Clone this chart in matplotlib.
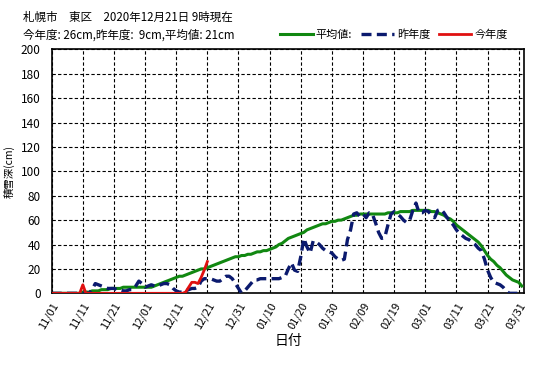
import numpy as np
import matplotlib
matplotlib.use('Agg')
import matplotlib.pyplot as plt
import matplotlib.dates as mdates

plt.rcParams['font.family'] = ['Noto Sans CJK JP', 'DejaVu Sans']

# season start, one value per day from 11/01
START = np.datetime64('2020-11-01')

# 平均値 (cm)
avg = [
    0, 0, 0, 0, 0, 0, 0, 0, 0, 0,
    1, 1, 1, 2, 2, 2, 3, 3, 3, 4,
    4, 4, 4, 5, 5, 5, 5, 5, 5, 5,
    5, 5, 5, 6, 7, 8, 9, 10, 11, 12,
    13, 14, 14, 15, 16, 17, 18, 19, 20, 20,
    21, 22, 23, 24, 25, 26, 27, 28, 29, 30,
    30, 31, 31, 32, 32, 33, 34, 34, 35, 35,
    36, 37, 38, 40, 41, 43, 45, 46, 47, 48,
    49, 50, 52, 53, 54, 55, 56, 57, 57, 58,
    59, 59, 60, 60, 61, 62, 63, 64, 64, 65,
    65, 65, 65, 65, 65, 65, 65, 65, 66, 66,
    66, 66, 67, 67, 67, 67, 68, 68, 68, 68,
    68, 68, 67, 67, 66, 65, 64, 62, 61, 59,
    56, 54, 52, 50, 48, 46, 44, 42, 39, 35,
    31, 28, 26, 23, 21, 18, 15, 13, 11, 10,
    9, 6,
]

# 昨年度 (cm)
last_year = [
    0, 0, 0, 0, 0, 0, 0, 0, 0, 0,
    0, 0, 0, 3, 8, 7, 6, 5, 4, 4,
    4, 3, 3, 2, 2, 3, 3, 6, 10, 8,
    5, 6, 7, 6, 6, 7, 8, 8, 7, 4,
    2, 1, 1, 2, 3, 4, 4, 5, 10, 12,
    12, 12, 11, 10, 10, 12, 14, 14, 12, 8,
    4, 0, 2, 5, 8, 11, 11, 12, 12, 12,
    12, 12, 12, 12, 13, 14, 20, 25, 19, 18,
    30, 45, 38, 33, 43, 42, 40, 37, 35, 34,
    33, 30, 28, 27, 28, 44, 52, 65, 66, 63,
    65, 62, 66, 65, 58, 50, 45, 46, 56, 65,
    67, 65, 63, 60, 58, 60, 68, 74, 66, 66,
    68, 67, 64, 62, 68, 69, 66, 62, 59, 56,
    52, 49, 47, 45, 44, 42, 40, 37, 35, 28,
    19, 13, 9, 8, 7, 5, 2, 0, 0, 0,
    0, 0,
]

# 今年度 (cm), up to 12/21
this_year = [
    0, 0, 0, 0, 0, 0, 0, 0, 0, 0,
    7, 0, 0, 0, 0, 0, 0, 0, 0, 0,
    0, 0, 0, 0, 0, 0, 0, 0, 0, 0,
    0, 0, 0, 0, 0, 0, 0, 0, 0, 0,
    0, 0, 0, 1, 5, 9, 9, 8, 13, 19,
    26,
]

tick_labels = ['11/01', '11/11', '11/21', '12/01', '12/11', '12/21', '12/31', '01/10',
               '01/20', '01/30', '02/09', '02/19', '03/01', '03/11', '03/21', '03/31']
y_ticks = [0, 20, 40, 60, 80, 100, 120, 140, 160, 180, 200]

title_line1 = '札幌市\u3000東区\u30002020年12月21日 9時現在'
title_line2 = '今年度: 26cm,昨年度:  9cm,平均値: 21cm'


def day_axis(n):
    return mdates.date2num((START + np.arange(n)).astype('datetime64[D]').astype(object))


fig = plt.figure(figsize=(5.35, 3.69), dpi=100)
ax = fig.add_axes([0.0966, 0.2051, 0.8834, 0.6612])

ax.plot(day_axis(len(avg)), avg, color='#118811', lw=2.2, label='平均値:', zorder=3)
ax.plot(day_axis(len(last_year)), last_year, color='#0b1a6e', lw=2.4,
        dashes=(3, 1.6), label='昨年度', zorder=4)
ax.plot(day_axis(len(this_year)), this_year, color='#e01010', lw=2.0,
        label='今年度', zorder=5)

x0 = day_axis(1)[0]
ticks = x0 + 10 * np.arange(len(tick_labels))
ax.set_xticks(ticks)
ax.set_xticklabels(tick_labels, rotation=60, ha='right', va='top',
                   rotation_mode='anchor', fontsize=8)
ax.set_xlim(x0, x0 + 151.8)
ax.set_yticks(y_ticks)
ax.set_yticklabels([str(v) for v in y_ticks], fontsize=8.5)
ax.set_ylim(0, 200)
ax.tick_params(axis='y', length=0, pad=8)
ax.tick_params(axis='x', length=0, pad=5)

ax.grid(True, color='black', lw=0.8, linestyle=(0, (3, 2)))
ax.set_axisbelow(True)
for s in ax.spines.values():
    s.set_linewidth(1.2)

ax.set_ylabel('積雪深(cm)', fontsize=7.5, labelpad=4)
ax.set_xlabel('日付', fontsize=10, labelpad=2)

fig.text(23 / 535, 1 - 17 / 369, title_line1, fontsize=8.3, va='center', ha='left')
fig.text(23 / 535, 1 - 35 / 369, title_line2, fontsize=8.3, va='center', ha='left')

fig.legend(loc='center right', bbox_to_anchor=(0.96, 1 - 35 / 369), ncol=3,
           frameon=False, fontsize=8, handlelength=2.9, handletextpad=0.3,
           columnspacing=0.8, borderpad=0)

fig.savefig('out.png', dpi=100)
